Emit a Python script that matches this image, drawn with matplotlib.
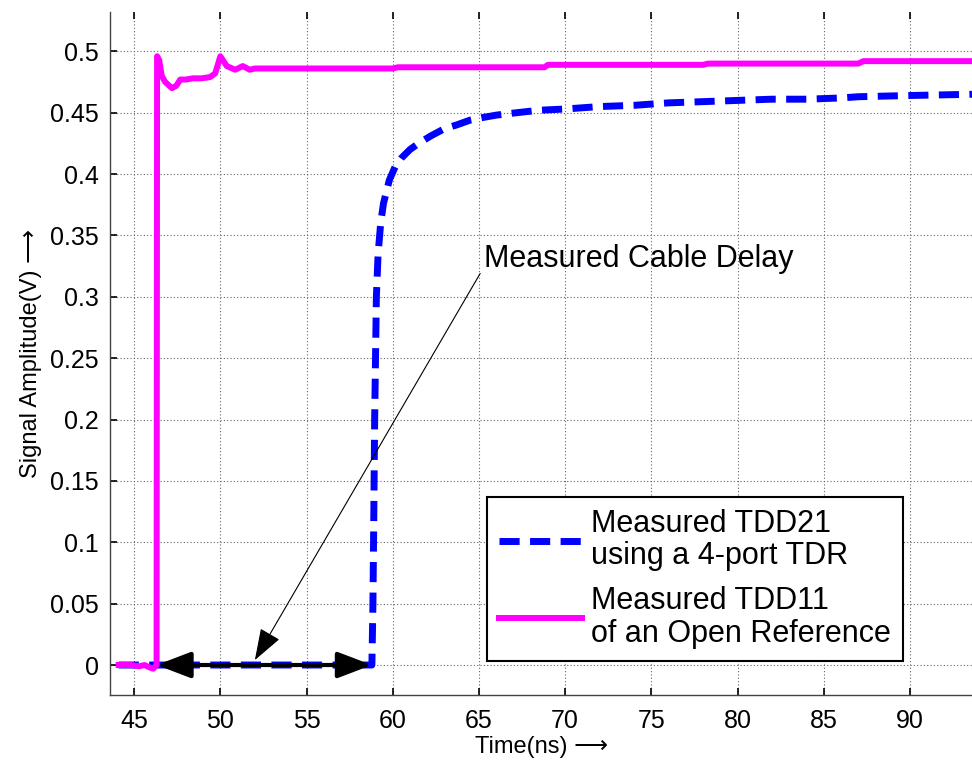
import matplotlib
matplotlib.use("Agg")
import matplotlib.pyplot as plt
from matplotlib.patches import FancyArrowPatch

plt.rcParams['font.family'] = ['Liberation Sans', 'DejaVu Sans']

# Measured TDD21 through the cable (4-port TDR), time in ns, amplitude in V
t21 = [44.1, 58.79, 58.85, 58.9, 58.95, 59.05, 59.15, 59.3, 59.46, 59.8, 60.14,
       60.5, 61.0, 61.5, 62.2, 63.0, 63.7, 64.5, 65.2, 66.0, 67.2, 68.5, 70.0,
       72.0, 74.0, 76.0, 78.0, 80.0, 82.0, 84.0, 86.0, 87.0, 90.0, 93.6]
v21 = [0.0, 0.0, 0.05, 0.12, 0.20, 0.30, 0.335, 0.36, 0.376, 0.395, 0.406,
       0.413, 0.420, 0.425, 0.431, 0.437, 0.440, 0.444, 0.446, 0.448, 0.450,
       0.452, 0.453, 0.455, 0.456, 0.458, 0.459, 0.460, 0.461, 0.461, 0.462,
       0.463, 0.464, 0.465]

# Measured TDD11 of the open reference
t11 = [44.1, 44.8, 45.3, 45.6, 45.9, 46.1, 46.3, 46.33, 46.45, 46.6, 46.8,
       47.19, 47.45, 47.67, 48.0, 48.4, 48.9, 49.4, 49.7, 50.0, 50.37, 50.86,
       51.3, 51.7, 52.0, 60.0, 60.3, 68.8, 69.0, 78.0, 78.3, 87.0, 87.3, 93.6]
v11 = [0.0, 0.0, -0.001, 0.0, -0.002, -0.003, 0.0, 0.496, 0.493, 0.480, 0.475,
       0.470, 0.472, 0.477, 0.477, 0.478, 0.478, 0.479, 0.482, 0.496, 0.488,
       0.485, 0.488, 0.485, 0.486, 0.486, 0.487, 0.487, 0.489, 0.489, 0.490,
       0.490, 0.492, 0.492]

x_ticks = [45, 50, 55, 60, 65, 70, 75, 80, 85, 90]
y_ticks = [0, 0.05, 0.1, 0.15, 0.2, 0.25, 0.3, 0.35, 0.4, 0.45, 0.5]
y_ticklabels = ['0', '0.05', '0.1', '0.15', '0.2', '0.25', '0.3', '0.35',
                '0.4', '0.45', '0.5']

delay_start, delay_end = 46.3, 58.79

fig = plt.figure(figsize=(9.72, 7.68), dpi=100)
ax = fig.add_axes([0.1132, 0.0951, 0.8868, 0.8889])

line21, = ax.plot(t21, v21, color='#0000FF', lw=5, solid_capstyle='butt',
                  dash_capstyle='butt', label='Measured TDD21\nusing a 4-port TDR')
line21.set_dashes([2.9, 1.5])
line11, = ax.plot(t11, v11, color='#FF00FF', lw=4.3, solid_joinstyle='round',
                  label='Measured TDD11\nof an Open Reference')

ax.set_xlim(43.6, 93.6)
ax.set_ylim(-0.0244, 0.5318)
ax.set_xticks(x_ticks)
ax.set_yticks(y_ticks)
ax.set_yticklabels(y_ticklabels)

ax.grid(True, color='#666666', linestyle=(0, (1, 2)), linewidth=0.8)
ax.set_axisbelow(True)
ax.tick_params(direction='in', length=5, width=1.2, labelsize=18,
               top=True, right=False, colors='black')
ax.tick_params(axis='x', pad=10)
ax.tick_params(axis='y', pad=8)
for side in ('top', 'right'):
    ax.spines[side].set_visible(False)
for side in ('left', 'bottom'):
    ax.spines[side].set_color('#444444')
    ax.spines[side].set_linewidth(1.0)

ax.set_xlabel('Time(ns) \u27f6', fontsize=17, labelpad=2)
ax.set_ylabel('Signal Amplitude(V) \u27f6', fontsize=17, labelpad=6)

# Double-headed arrow marking the cable delay
delay_arrow = FancyArrowPatch((delay_start, 0.0), (delay_end, 0.0),
                              arrowstyle='<|-|>,head_length=21,head_width=8',
                              mutation_scale=1, color='black', lw=3,
                              shrinkA=0, shrinkB=0, zorder=5)
ax.add_patch(delay_arrow)

# Callout
ax.annotate('', xy=(52.0, 0.004), xytext=(65.07, 0.319),
            arrowprops=dict(arrowstyle='-|>,head_length=1.0,head_width=0.35',
                            mutation_scale=20, color='black', lw=0.8,
                            shrinkA=0, shrinkB=0), zorder=6)
ax.text(65.3, 0.331, 'Measured Cable Delay', fontsize=22, ha='left',
        va='center', zorder=6)

leg = ax.legend(handles=[line21, line11], loc='lower right',
                bbox_to_anchor=(0.92, 0.05), borderaxespad=0, fontsize=22,
                handlelength=2.7, handletextpad=0.3, borderpad=0.4,
                labelspacing=0.5, fancybox=False, framealpha=1,
                edgecolor='black')
leg.get_frame().set_linewidth(1.5)
for txt in leg.get_texts():
    txt.set_linespacing(1.1)

fig.savefig('out.png', dpi=100)
